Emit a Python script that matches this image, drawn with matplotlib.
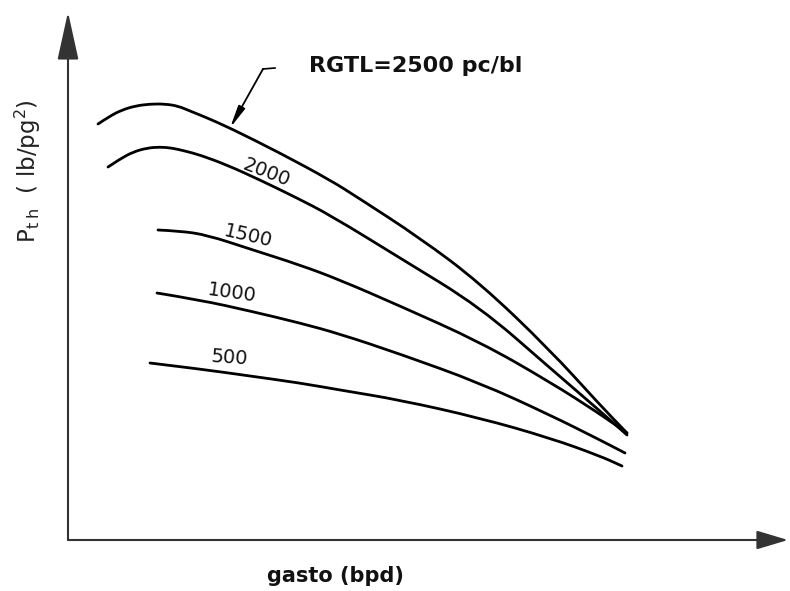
import matplotlib.pyplot as plt
from matplotlib.patches import PathPatch
from matplotlib.path import Path

# values: gasto (x) vs Pth (y), arbitrary units, origin at the axes corner
gasto_2500 = [30, 42, 54, 67, 82, 97, 110, 122, 137, 162, 212, 262, 289, 352, 412, 482, 532, 559]
pth_2500 = [416, 424, 430, 434, 436, 436, 434, 429, 423, 412, 387, 360, 343, 302, 257, 190, 135, 107]

gasto_2000 = [40, 52, 65, 79, 92, 104, 117, 132, 159, 192, 227, 262, 332, 412, 482, 532, 559]
pth_2000 = [373, 381, 388, 392, 393, 392, 389, 385, 375, 360, 343, 325, 282, 233, 172, 129, 105]

gasto_1500 = [90, 112, 139, 182, 232, 272, 332, 412, 482, 532, 559]
pth_1500 = [310, 309, 305, 291, 275, 260, 234, 198, 158, 126, 107]

gasto_1000 = [89, 132, 182, 232, 272, 332, 412, 482, 532, 557]
pth_1000 = [247, 240, 229, 217, 206, 186, 157, 125, 100, 87]

gasto_500 = [82, 132, 182, 232, 272, 332, 412, 482, 532, 554]
pth_500 = [177, 171, 164, 157, 150, 140, 122, 102, 84, 74]

# curve labels (RGTL, pc/bl) and where they sit
curve_labels = ["2000", "1500", "1000", "500"]
label_x = [199, 180, 164, 161]
label_y = [367, 304, 247, 182]
label_rot = [-21, -13, -8, -4]


def smooth_curve(x, y):
    # quadratic b-spline through the read points, so the sketch stays smooth
    verts = [(x[0], y[0])]
    codes = [Path.MOVETO]
    for i in range(1, len(x) - 1):
        verts += [(x[i], y[i]), ((x[i] + x[i + 1]) / 2, (y[i] + y[i + 1]) / 2)]
        codes += [Path.CURVE3, Path.CURVE3]
    verts.append((x[-1], y[-1]))
    codes.append(Path.LINETO)
    return Path(verts, codes)


fig = plt.figure(figsize=(7.9, 5.91), dpi=100)
ax = fig.add_axes([68 / 790, 51 / 591, 722 / 790, 540 / 591])
ax.set_xlim(0, 722)
ax.set_ylim(0, 540)
ax.axis("off")

curves = [
    (gasto_2500, pth_2500),
    (gasto_2000, pth_2000),
    (gasto_1500, pth_1500),
    (gasto_1000, pth_1000),
    (gasto_500, pth_500),
]
for x, y in curves:
    ax.add_patch(PathPatch(smooth_curve(x, y), fill=False, edgecolor="black",
                           lw=2.0, capstyle="round", joinstyle="round"))

for txt, x, y, rot in zip(curve_labels, label_x, label_y, label_rot):
    ax.text(x, y, txt, fontsize=14, rotation=rot, rotation_mode="anchor",
            ha="center", va="center", color="#111111")

# axes drawn as arrows
axis_color = "#333333"
ax.annotate("", xy=(0, 528), xytext=(0, 0),
            arrowprops=dict(arrowstyle="-|>,head_length=1.5,head_width=0.33",
                            mutation_scale=20, lw=1.5, color=axis_color,
                            shrinkA=0, shrinkB=0),
            annotation_clip=False)
ax.annotate("", xy=(720, 0), xytext=(0, 0),
            arrowprops=dict(arrowstyle="-|>,head_length=0.97,head_width=0.29",
                            mutation_scale=20, lw=1.5, color=axis_color,
                            shrinkA=0, shrinkB=0),
            annotation_clip=False)

# leader for the 2500 curve
ax.plot([207, 195], [472, 471], color="black", lw=1.2)
ax.annotate("", xy=(162, 412), xytext=(195, 471),
            arrowprops=dict(arrowstyle="-|>,head_length=1.1,head_width=0.18",
                            mutation_scale=12, lw=1.3, color="black",
                            shrinkA=0, shrinkB=0))
ax.text(348, 468, "RGTL=2500 pc/bl", fontsize=16, fontweight="bold",
        ha="center", va="baseline", color="#111111")

ax.text(267, -42, "gasto (bpd)", fontsize=15, fontweight="bold",
        ha="center", va="baseline", clip_on=False, color="#111111")
ax.text(-40, 369, r"P$_{\mathregular{t\;h}}$  ( lb/pg$^{\mathregular{2}}$)",
        fontsize=16.5, rotation=90, ha="center", va="center", clip_on=False,
        color="#222222")

fig.savefig("out.png", dpi=100)
